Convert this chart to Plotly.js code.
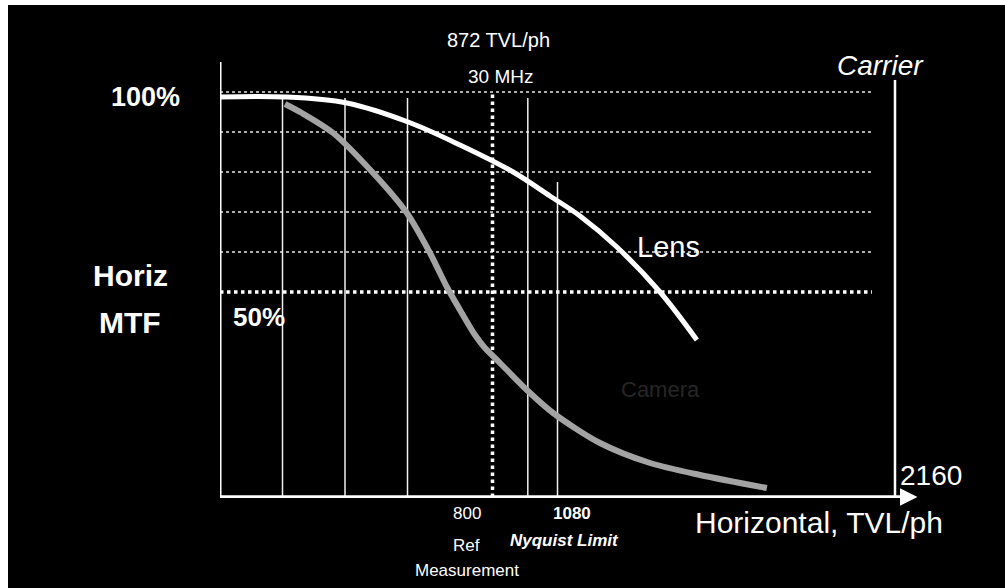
<!DOCTYPE html>
<html>
<head>
<meta charset="utf-8">
<script src="https://cdn.plot.ly/plotly-3.0.1.min.js"></script>
<style>
html,body{margin:0;padding:0;background:#ffffff;width:1005px;height:588px;overflow:hidden;}
#chart{position:absolute;left:8px;top:5px;width:997px;height:583px;}
</style>
</head>
<body>
<div id="chart"></div>
<script>
// ---- data (TVL/ph vs. horizontal MTF %) ----
var lensX = [0, 208, 406, 602, 768, 938, 1056, 1152, 1270, 1408, 1526];
var lensY = [98.75, 98.75, 97.25, 92.5, 86.75, 80, 74, 69, 61.25, 50, 38];

var cameraX = [208, 262, 362, 490, 598, 672, 726, 768, 816, 848, 896, 982, 1066, 1216, 1376, 1536, 1750];
var cameraY = [97, 94.75, 89.75, 79.75, 69.75, 59.75, 51.25, 45.5, 39.25, 36, 32.25, 25.5, 19.75, 12.25, 7.25, 4.25, 1];

var hGridLevels = [100, 90, 80, 70, 60];
var halfLevel = 50;
var vGridSolid = [200, 400, 600, 985];
var nyquist = 1080;
var refMeasure = 800;
var marker872 = 872;
var carrier = 2160;
var gridEnd = 2086;
var axisY = -1.25;
var axisEnd = 2232;

var xRange = [0, 2240];
var yRange = [-1.5, 107.5];

var traces = [
  {x: cameraX, y: cameraY, mode: 'lines', line: {color: '#a3a3a3', width: 6, shape: 'spline', smoothing: 0.8}, hoverinfo: 'skip'},
  {x: lensX, y: lensY, mode: 'lines', line: {color: '#ffffff', width: 5, shape: 'spline', smoothing: 1}, hoverinfo: 'skip'}
];

var shapes = [];
hGridLevels.forEach(function (v) {
  shapes.push({type: 'line', xref: 'x', yref: 'y', x0: 0, x1: gridEnd, y0: v, y1: v,
    line: {color: '#e8e8e8', width: 1.5, dash: 'dot'}, layer: 'below'});
});
shapes.push({type: 'line', xref: 'x', yref: 'y', x0: 0, x1: gridEnd, y0: halfLevel, y1: halfLevel,
  line: {color: '#ffffff', width: 3.5, dash: 'dot'}, layer: 'below'});
vGridSolid.forEach(function (v) {
  shapes.push({type: 'line', xref: 'x', yref: 'y', x0: v, x1: v, y0: axisY, y1: 98.5,
    line: {color: '#f0f0f0', width: 1.5}, layer: 'below'});
});
shapes.push({type: 'line', xref: 'x', yref: 'y', x0: nyquist, x1: nyquist, y0: axisY, y1: 77.5,
  line: {color: '#f0f0f0', width: 1.5}, layer: 'below'});
shapes.push({type: 'line', xref: 'x', yref: 'y', x0: marker872, x1: marker872, y0: axisY, y1: 100,
  line: {color: '#ffffff', width: 3.5, dash: 'dot'}, layer: 'below'});
shapes.push({type: 'line', xref: 'x', yref: 'y', x0: carrier, x1: carrier, y0: axisY, y1: 103,
  line: {color: '#ffffff', width: 2.5}, layer: 'below'});
// y axis
shapes.push({type: 'line', xref: 'x', yref: 'y', x0: 0, x1: 0, y0: axisY, y1: 107.5,
  line: {color: '#ffffff', width: 3}});
// x axis
shapes.push({type: 'line', xref: 'x', yref: 'y', x0: 0, x1: axisEnd - 20, y0: axisY, y1: axisY,
  line: {color: '#ffffff', width: 3.5}});
// tick at 800
shapes.push({type: 'line', xref: 'x', yref: 'y', x0: refMeasure, x1: refMeasure, y0: axisY, y1: axisY - 1.5,
  line: {color: '#ffffff', width: 2}});

function px(x) { return (x - xRange[0]) / (xRange[1] - xRange[0]); }
function py(y) { return (y - yRange[0]) / (yRange[1] - yRange[0]); }

function txt(x, y, t, size, opts) {
  opts = opts || {};
  return {x: px(x), y: py(y), xref: 'paper', yref: 'paper', text: t, showarrow: false,
    xanchor: opts.xanchor || 'center', yanchor: 'middle',
    font: {family: opts.family || 'Liberation Sans, Arial, sans-serif', size: size, color: opts.color || '#ffffff',
      weight: opts.weight || 'normal', style: opts.style || 'normal'}};
}

var annotations = [
  // x axis arrow head
  {x: axisEnd, y: axisY, ax: axisEnd - 40, ay: axisY, xref: 'x', yref: 'y', axref: 'x', ayref: 'y',
    text: '', showarrow: true, arrowhead: 2, arrowsize: 1, arrowwidth: 3.5, arrowcolor: '#ffffff'},
  txt(890, 113, '872 TVL/ph', 20),
  txt(896, 103.75, '30 MHz', 19),
  txt(-237, 98.75, '100%', 27, {weight: 'bold'}),
  txt(-288, 54.25, 'Horiz', 30, {weight: 'bold'}),
  txt(-288, 42.5, 'MTF', 30, {weight: 'bold'}),
  txt(125, 43.75, '50%', 26, {weight: 'bold'}),
  txt(2115, 106.75, 'Carrier', 28, {style: 'italic'}),
  txt(1434, 61.25, 'Lens', 29),
  txt(1408, 25.5, 'Camera', 22, {color: '#262626'}),
  txt(2275, 4.25, String(carrier), 28),
  txt(1917, -7.5, 'Horizontal, TVL/ph', 30),
  txt(790, -5.25, String(refMeasure), 17),
  txt(790, -13.25, 'Ref', 17),
  txt(790, -19.5, 'Measurement', 17),
  txt(1126, -5.25, String(nyquist), 17, {weight: 'bold'}),
  txt(1101, -12, 'Nyquist Limit', 17, {weight: 'bold', style: 'italic'})
];

var layout = {
  width: 997, height: 583,
  paper_bgcolor: '#000000', plot_bgcolor: '#000000',
  margin: {l: 212, r: 85, t: 57, b: 90},
  showlegend: false,
  hovermode: false,
  xaxis: {range: xRange, visible: false, fixedrange: true},
  yaxis: {range: yRange, visible: false, fixedrange: true},
  shapes: shapes,
  annotations: annotations
};

Plotly.newPlot('chart', traces, layout, {displayModeBar: false, staticPlot: true});
</script>
</body>
</html>
